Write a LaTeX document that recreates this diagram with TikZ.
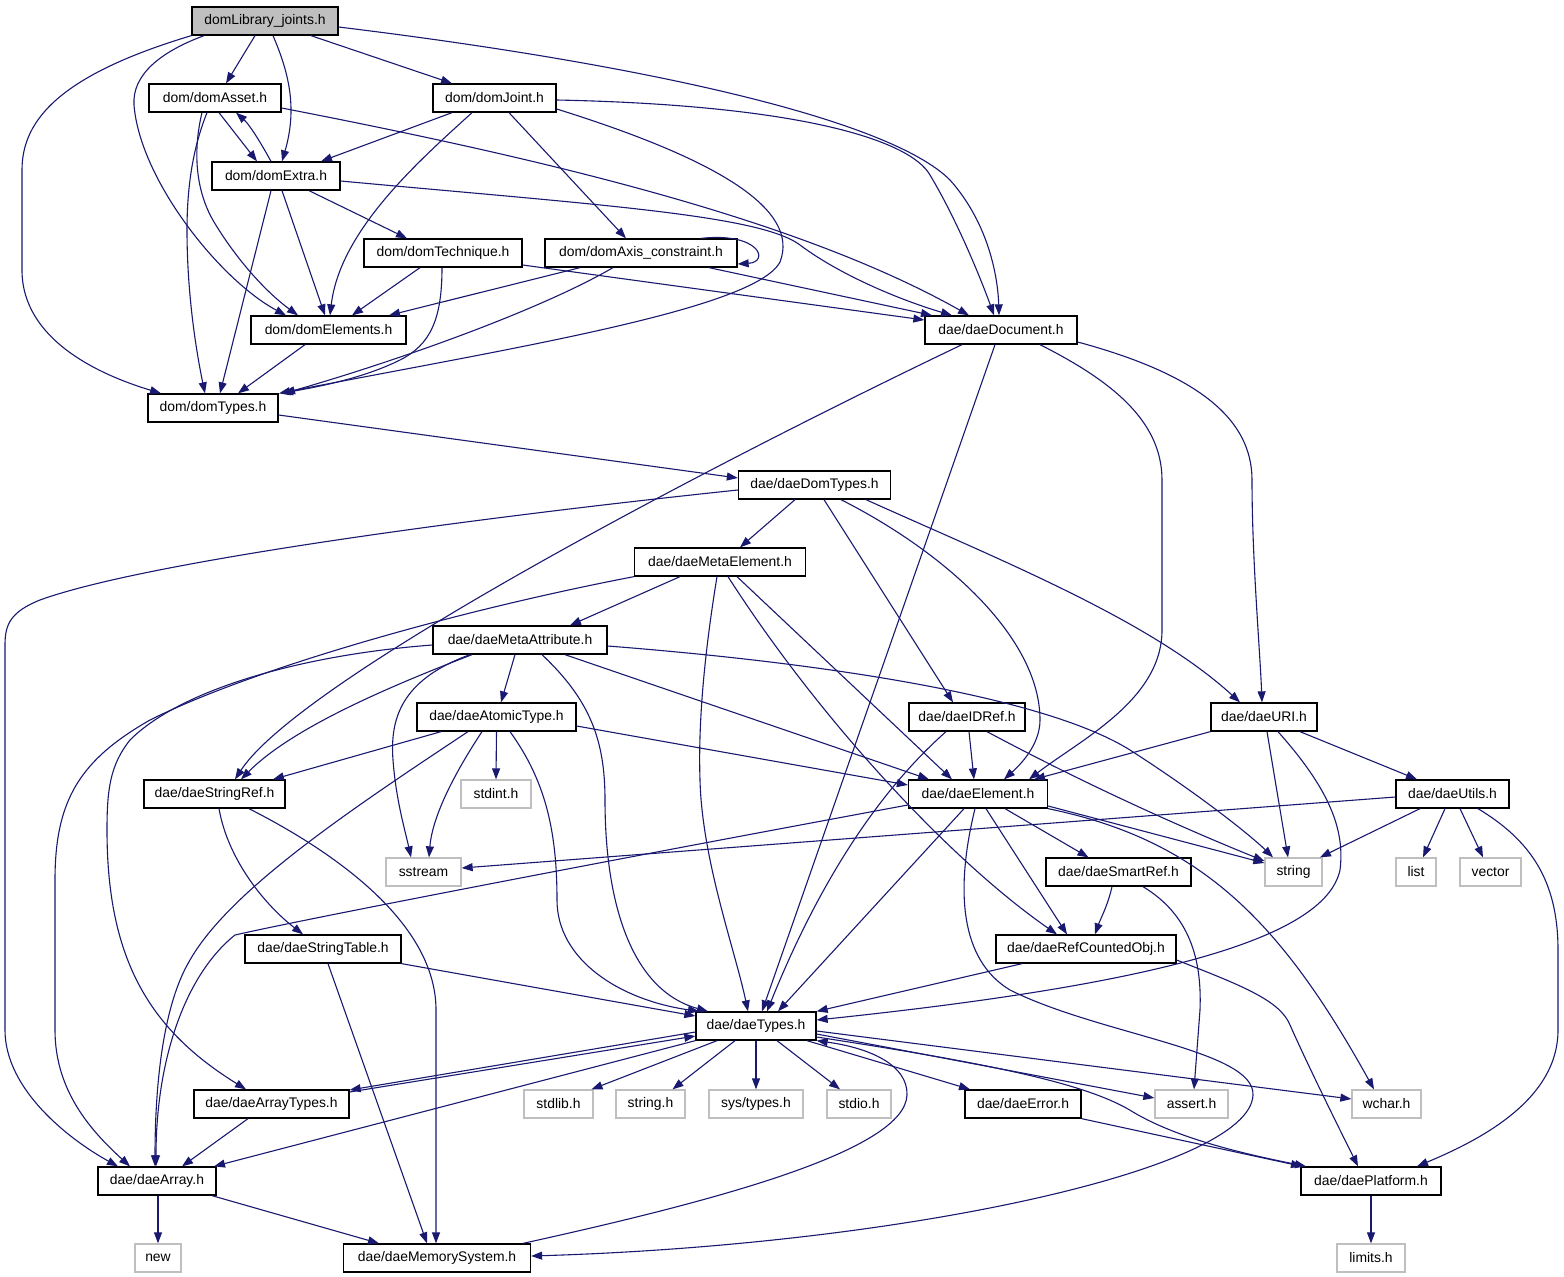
\documentclass[tikz,border=0pt]{standalone}
\usepackage{fontspec}
\setmainfont{Liberation Sans}
\usetikzlibrary{arrows.meta}
\definecolor{edgec}{HTML}{191970}
\definecolor{grayb}{HTML}{BFBFBF}
\begin{document}
\begin{tikzpicture}[x=1pt,y=-1pt,
  hdr/.style={draw=black,line width=1.3pt,fill=white,minimum height=28pt,inner sep=0pt,font=\fontsize{13.9}{16}\selectfont},
  sys/.style={hdr,draw=grayb},
  root/.style={hdr,fill=grayb},
  e/.style={draw=edgec,line width=1.1pt,-{Triangle[length=11pt,width=8pt]}}]
\useasboundingbox[fill=white] (0,0) rectangle (1564,1277);
% nodes
\node[root,minimum width=146pt] (L) at (265,21) {domLibrary\_joints.h};
\node[hdr,minimum width=132pt] (Asset) at (215,98) {dom/domAsset.h};
\node[hdr,minimum width=123pt] (Joint) at (494.5,98) {dom/domJoint.h};
\node[hdr,minimum width=128pt] (Extra) at (276,176) {dom/domExtra.h};
\node[hdr,minimum width=158pt] (Tech) at (443,253) {dom/domTechnique.h};
\node[hdr,minimum width=192pt] (Axis) at (641,253) {dom/domAxis\_constraint.h};
\node[hdr,minimum width=155pt] (Elems) at (328.5,330) {dom/domElements.h};
\node[hdr,minimum width=152pt] (Doc) at (1001,330) {dae/daeDocument.h};
\node[hdr,minimum width=130pt] (DTypes) at (213,408) {dom/domTypes.h};
\node[hdr,minimum width=152pt] (DomT) at (814.5,485) {dae/daeDomTypes.h};
\node[hdr,minimum width=171pt] (MetaE) at (720,562) {dae/daeMetaElement.h};
\node[hdr,minimum width=174pt] (MetaA) at (520,640) {dae/daeMetaAttribute.h};
\node[hdr,minimum width=159pt] (AtomT) at (496.5,717) {dae/daeAtomicType.h};
\node[hdr,minimum width=116pt] (IDRef) at (967,717) {dae/daeIDRef.h};
\node[hdr,minimum width=106pt] (URI) at (1264,717) {dae/daeURI.h};
\node[hdr,minimum width=141pt] (StrRef) at (214.5,794) {dae/daeStringRef.h};
\node[sys,minimum width=70pt] (stdint) at (496,794) {stdint.h};
\node[hdr,minimum width=139pt] (Elem) at (978,794) {dae/daeElement.h};
\node[hdr,minimum width=113pt] (Utils) at (1452.5,794) {dae/daeUtils.h};
\node[sys,minimum width=75pt] (sstream) at (423.5,872) {sstream};
\node[hdr,minimum width=145pt] (Smart) at (1118.5,872) {dae/daeSmartRef.h};
\node[sys,minimum width=57pt] (string) at (1293.5,872) {string};
\node[sys,minimum width=40pt] (list) at (1416,872) {list};
\node[sys,minimum width=61pt] (vector) at (1490.5,872) {vector};
\node[hdr,minimum width=156pt] (StrTab) at (323,949) {dae/daeStringTable.h};
\node[hdr,minimum width=180pt] (RefC) at (1086,949) {dae/daeRefCountedObj.h};
\node[hdr,minimum width=120pt] (Types) at (756,1026) {dae/daeTypes.h};
\node[hdr,minimum width=155pt] (ArrT) at (271.5,1104) {dae/daeArrayTypes.h};
\node[sys,minimum width=69pt] (stdlib) at (558.5,1104) {stdlib.h};
\node[sys,minimum width=69pt] (stringh) at (650.5,1104) {string.h};
\node[sys,minimum width=94pt] (systypes) at (756,1104) {sys/types.h};
\node[sys,minimum width=64pt] (stdio) at (859,1104) {stdio.h};
\node[hdr,minimum width=116pt] (Error) at (1023,1104) {dae/daeError.h};
\node[sys,minimum width=73pt] (assert) at (1191.5,1104) {assert.h};
\node[sys,minimum width=69pt] (wchar) at (1386.5,1104) {wchar.h};
\node[hdr,minimum width=118pt] (Array) at (157,1181) {dae/daeArray.h};
\node[hdr,minimum width=140pt] (Platform) at (1371,1181) {dae/daePlatform.h};
\node[sys,minimum width=46pt] (new) at (158,1258) {new};
\node[hdr,minimum width=187pt] (Mem) at (437,1258) {dae/daeMemorySystem.h};
\node[sys,minimum width=68pt] (limits) at (1371,1258) {limits.h};
% edges from domLibrary_joints
\draw[e] (L.south west) .. controls (60,75) and (22,120) .. (22,170) -- (22,270) .. controls (22,340) and (100,375) .. ([xshift=-52pt]DTypes.north);
\draw[e] ([xshift=-61pt]L.south) .. controls (160,52) and (132,75) .. (134,105) .. controls (140,180) and (220,280) .. ([xshift=-42.5pt]Elems.north);
\draw[e] ([xshift=-10pt]L.south) -- ([xshift=11pt]Asset.north);
\draw[e] ([xshift=8pt]L.south) .. controls (290,75) and (297,110) .. ([xshift=6pt]Extra.north);
\draw[e] ([xshift=46pt]L.south) -- ([xshift=-42.5pt]Joint.north);
\draw[e] ([yshift=-6pt]L.east) .. controls (650,65) and (890,120) .. (950,180) .. controls (990,225) and (998,280) .. ([xshift=-2pt]Doc.north);
% domAsset
\draw[e] ([xshift=4pt]Asset.south) -- ([xshift=-19pt]Extra.north);
\draw[e] ([xshift=-13pt]Asset.south) .. controls (193,150) and (195,190) .. (214,222) .. controls (240,265) and (270,295) .. ([xshift=-30.5pt]Elems.north);
\draw[e] ([xshift=-8pt]Asset.south) .. controls (192,150) and (187,190) .. (187,230) .. controls (187,300) and (198,360) .. ([xshift=-8pt]DTypes.north);
\draw[e] ([yshift=-10pt]Asset.east) .. controls (550,160) and (800,220) .. ([xshift=-32pt]Doc.north);
% domExtra
\draw[e] ([xshift=-5pt]Extra.north) .. controls (262,145) and (250,125) .. ([xshift=21pt]Asset.south);
\draw[e] ([xshift=33pt]Extra.south) -- ([xshift=-36pt]Tech.north);
\draw[e] ([xshift=6pt]Extra.south) -- ([xshift=-3.5pt]Elems.north);
\draw[e] ([xshift=-5pt]Extra.south) -- ([xshift=7pt]DTypes.north);
\draw[e] ([yshift=-5pt]Extra.east) .. controls (600,205) and (760,215) .. (800,245) .. controls (840,275) and (900,300) .. ([xshift=-49pt]Doc.north);
% domJoint
\draw[e] ([xshift=-42.5pt]Joint.south) -- ([xshift=45pt]Extra.north);
\draw[e] ([xshift=-22.5pt]Joint.south) .. controls (420,160) and (340,230) .. ([xshift=1.5pt]Elems.north);
\draw[e] ([xshift=14.5pt]Joint.south) -- ([xshift=-15pt]Axis.north);
\draw[e] ([yshift=-11pt]Joint.east) .. controls (720,160) and (800,210) .. (780,262) .. controls (755,310) and (500,350) .. ([xshift=66pt]DTypes.north);
\draw[e] ([yshift=-2pt]Joint.east) .. controls (800,105) and (910,140) .. (930,175) .. controls (960,225) and (985,290) .. ([xshift=-7pt]Doc.north);
% domTechnique
\draw[e] ([xshift=-23pt]Tech.south) -- ([xshift=23.5pt]Elems.north);
\draw[e] ([xshift=-1pt]Tech.south) .. controls (442,320) and (430,345) .. (400,360) .. controls (360,380) and (310,388) .. ([xshift=69pt]DTypes.north);
\draw[e] ([yshift=-12pt]Tech.east) -- ([yshift=10pt]Doc.west);
% domAxis_constraint
\draw[e] ([xshift=60pt]Axis.north) .. controls (760,232) and (770,262) .. ([yshift=-11pt]Axis.east);
\draw[e] ([xshift=-61pt]Axis.south) -- ([xshift=60.5pt]Elems.north);
\draw[e] ([xshift=-28pt]Axis.south) .. controls (540,310) and (400,360) .. ([xshift=71pt]DTypes.north);
\draw[e] ([xshift=68pt]Axis.south) -- ([xshift=-69pt]Doc.north);
% domElements
\draw[e] ([xshift=-23.5pt]Elems.south) -- ([xshift=25pt]DTypes.north);
% daeDocument
\draw[e] ([xshift=-39pt]Doc.south) .. controls (700,470) and (300,680) .. ([xshift=20.5pt]StrRef.north);
\draw[e] ([xshift=-6pt]Doc.south) -- ([xshift=6pt]Types.north);
\draw[e] ([xshift=39pt]Doc.south) .. controls (1110,380) and (1162,420) .. (1162,480) -- (1162,630) .. controls (1162,700) and (1080,740) .. ([xshift=51pt]Elem.north);
\draw[e] ([yshift=-12pt]Doc.east) .. controls (1200,375) and (1252,420) .. (1252,480) .. controls (1252,560) and (1260,650) .. ([xshift=-2pt]URI.north);
% domTypes
\draw[e] ([yshift=-7pt]DTypes.east) -- ([yshift=7pt]DomT.west);
% daeDomTypes
\draw[e] ([yshift=-5pt]DomT.west) .. controls (500,515) and (150,560) .. (40,600) .. controls (10,612) and (5,625) .. (5,645) -- (5,1030) .. controls (5,1090) and (70,1140) .. ([xshift=-39pt]Array.north);
\draw[e] ([xshift=-19.5pt]DomT.south) -- ([xshift=20pt]MetaE.north);
\draw[e] ([xshift=9.5pt]DomT.south) -- ([xshift=-14pt]IDRef.north);
\draw[e] ([xshift=26.5pt]DomT.south) .. controls (950,555) and (1040,640) .. (1040,720) .. controls (1040,745) and (1020,765) .. ([xshift=26pt]Elem.north);
\draw[e] ([xshift=51.5pt]DomT.south) .. controls (1000,560) and (1150,620) .. ([xshift=-24pt]URI.north);
% daeMetaElement
\draw[e] ([xshift=-40pt]MetaE.south) -- ([xshift=50pt]MetaA.north);
\draw[e] (MetaE.south west) .. controls (450,612) and (250,670) .. (150,720) .. controls (80,760) and (55,800) .. (55,880) -- (55,1030) .. controls (55,1090) and (90,1130) .. ([xshift=-27pt]Array.north);
\draw[e] ([xshift=-3pt]MetaE.south) .. controls (705,650) and (698,720) .. (700,780) .. controls (702,860) and (735,950) .. ([xshift=-8pt]Types.north);
\draw[e] ([xshift=8pt]MetaE.south) .. controls (820,720) and (950,860) .. ([xshift=-29pt]RefC.north);
\draw[e] ([xshift=17pt]MetaE.south) -- ([xshift=-26pt]Elem.north);
% daeMetaAttribute
\draw[e] ([xshift=-48pt]MetaA.south) .. controls (380,690) and (290,730) .. ([xshift=26.5pt]StrRef.north);
\draw[e] ([xshift=-5pt]MetaA.south) -- ([xshift=4.5pt]AtomT.north);
\draw[e] ([xshift=-50pt]MetaA.south) .. controls (400,680) and (390,720) .. (393,760) .. controls (396,800) and (405,830) .. ([xshift=-12.5pt]sstream.north);
\draw[e] ([xshift=22pt]MetaA.south) .. controls (590,700) and (605,740) .. (605,800) .. controls (605,900) and (630,990) .. ([xshift=-48pt]Types.north);
\draw[e] ([xshift=45pt]MetaA.south) -- ([xshift=-49pt]Elem.north);
\draw[e] ([yshift=-6pt]MetaA.east) .. controls (850,665) and (1050,700) .. (1130,750) .. controls (1200,795) and (1250,835) .. ([xshift=-20.5pt]string.north);
\draw[e] ([yshift=-5pt]MetaA.west) .. controls (300,655) and (180,690) .. (130,740) .. controls (110,765) and (107,790) .. (107,830) .. controls (107,960) and (150,1030) .. ([xshift=-25.5pt]ArrT.north);
% daeAtomicType
\draw[e] ([xshift=-55.5pt]AtomT.south) -- ([xshift=58.5pt]StrRef.north);
\draw[e] (AtomT.south) -- (stdint.north);
\draw[e] ([xshift=-14.5pt]AtomT.south) .. controls (450,780) and (432,820) .. ([xshift=5.5pt]sstream.north);
\draw[e] ([xshift=-28.5pt]AtomT.south) .. controls (350,810) and (230,890) .. (190,960) .. controls (160,1010) and (155,1100) .. ([xshift=-2pt]Array.north);
\draw[e] ([xshift=13.5pt]AtomT.south) .. controls (545,780) and (557,830) .. (557,900) .. controls (557,960) and (620,1000) .. ([xshift=-57pt]Types.north);
\draw[e] ([yshift=-9pt]AtomT.east) -- ([yshift=9pt]Elem.west);
% daeIDRef
\draw[e] ([xshift=2pt]IDRef.south) -- ([xshift=-4pt]Elem.north);
\draw[e] ([xshift=-21pt]IDRef.south) .. controls (880,790) and (820,880) .. ([xshift=11pt]Types.north);
\draw[e] ([xshift=20pt]IDRef.south) .. controls (1100,792) and (1200,835) .. ([yshift=11pt]string.west);
% daeURI
\draw[e] (URI.south west) -- ([xshift=56pt]Elem.north);
\draw[e] ([xshift=3pt]URI.south) -- ([xshift=-5.5pt]string.north);
\draw[e] ([xshift=14pt]URI.south) .. controls (1330,790) and (1345,830) .. (1340,870) .. controls (1325,940) and (1150,985) .. ([yshift=6pt]Types.east);
\draw[e] ([xshift=36pt]URI.south) -- ([xshift=-35.5pt]Utils.north);
% daeUtils
\draw[e] ([yshift=-3pt]Utils.west) -- ([yshift=4pt]sstream.east);
\draw[e] ([xshift=-32.5pt]Utils.south) -- ([xshift=26.5pt]string.north);
\draw[e] ([xshift=-7.5pt]Utils.south) -- ([xshift=7pt]list.north);
\draw[e] ([xshift=7.5pt]Utils.south) -- ([xshift=-7.5pt]vector.north);
\draw[e] ([xshift=25.5pt]Utils.south) .. controls (1530,840) and (1558,880) .. (1558,950) -- (1558,1030) .. controls (1558,1100) and (1480,1140) .. ([xshift=46pt]Platform.north);
% daeElement
\draw[e] ([yshift=-11pt]Elem.west) .. controls (600,862) and (300,920) .. (235,935) .. controls (185,975) and (156,1060) .. ([xshift=-1pt]Array.north);
\draw[e] ([xshift=27pt]Elem.south) -- ([xshift=-30pt]Smart.north);
\draw[e] ([yshift=-12pt]Elem.east) -- ([yshift=9pt]string.west);
\draw[e] ([xshift=8pt]Elem.south) -- ([xshift=-19pt]RefC.north);
\draw[e] ([xshift=-14pt]Elem.south) -- ([xshift=22pt]Types.north);
\draw[e] (Elem.south east) .. controls (1200,840) and (1280,920) .. ([xshift=-12.5pt]wchar.north);
\draw[e] ([xshift=-3pt]Elem.south) .. controls (955,890) and (960,960) .. (1010,990) .. controls (1100,1035) and (1255,1050) .. (1253,1095) .. controls (1250,1170) and (900,1245) .. ([yshift=2pt]Mem.east);
% daeStringRef
\draw[e] ([xshift=4.5pt]StrRef.south) .. controls (228,860) and (265,905) .. ([xshift=-20pt]StrTab.north);
\draw[e] ([xshift=34.5pt]StrRef.south) .. controls (350,860) and (436,930) .. (436,1010) -- ([xshift=-1pt]Mem.north);
% daeSmartRef
\draw[e] ([xshift=-6.5pt]Smart.south) .. controls (1108,905) and (1100,920) .. ([xshift=9pt]RefC.north);
\draw[e] ([xshift=24.5pt]Smart.south) .. controls (1190,915) and (1202,960) .. (1200,1010) -- ([xshift=2.5pt]assert.north);
% daeStringTable
\draw[e] (StrTab.south east) -- ([yshift=10pt]Types.west);
\draw[e] ([xshift=5pt]StrTab.south) -- ([xshift=-10pt]Mem.north);
% daeRefCountedObj
\draw[e] ([xshift=-64pt]RefC.south) -- (Types.north east);
\draw[e] ([yshift=-11pt]RefC.east) .. controls (1240,985) and (1280,1000) .. (1290,1025) .. controls (1310,1070) and (1340,1130) .. ([xshift=-13pt]Platform.north);
% daeTypes
\draw[e] ([yshift=-6pt]Types.west) -- ([yshift=14pt]ArrT.east);
\draw[e] ([yshift=12pt]ArrT.east) -- ([yshift=-10pt]Types.west);
\draw[e] ([xshift=-39pt]Types.south) -- ([xshift=33pt]stdlib.north);
\draw[e] ([xshift=-21pt]Types.south) -- ([xshift=22pt]stringh.north);
\draw[e] (Types.south) -- (systypes.north);
\draw[e] ([xshift=21pt]Types.south) -- ([xshift=-19pt]stdio.north);
\draw[e] ([xshift=51pt]Types.south) -- ([xshift=-53pt]Error.north);
\draw[e] ([yshift=-8pt]Types.east) -- ([yshift=6pt]assert.west);
\draw[e] ([yshift=-5pt]Types.east) -- ([yshift=5pt]wchar.west);
\draw[e] ([yshift=-11pt]Types.east) .. controls (1000,1065) and (1090,1085) .. (1133,1112) .. controls (1180,1140) and (1250,1155) .. ([xshift=-65pt]Platform.north);
\draw[e] (Types.south west) -- ([xshift=57pt]Array.north);
% daeMemorySystem
\draw[e] ([xshift=86pt]Mem.north) .. controls (720,1200) and (905,1150) .. (907,1095) .. controls (908,1065) and (870,1048) .. (Types.south east);
% daeArrayTypes
\draw[e] ([xshift=-23.5pt]ArrT.south) -- ([xshift=25pt]Array.north);
% daeArray
\draw[e] ([xshift=1pt]Array.south) -- (new.north);
\draw[e] ([xshift=55pt]Array.south) -- ([xshift=-58pt]Mem.north);
% daeError, daePlatform
\draw[e] (Error.south east) -- ([xshift=-69pt]Platform.north);
\draw[e] (Platform.south) -- (limits.north);
\end{tikzpicture}
\end{document}
